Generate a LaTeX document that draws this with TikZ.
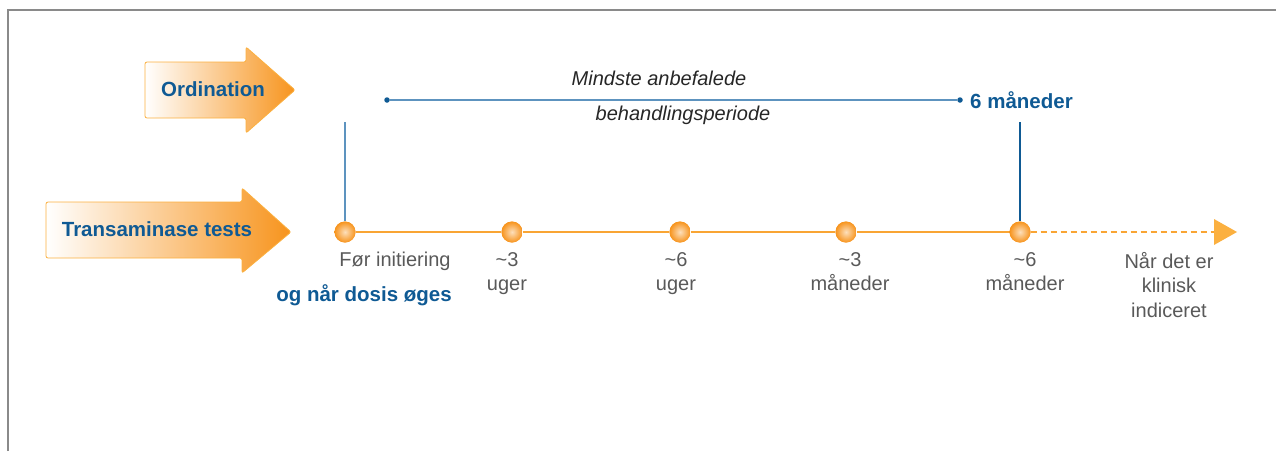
\documentclass[tikz,border=0pt]{standalone}
\usepackage{fontspec}
\setmainfont{Liberation Sans}
\usetikzlibrary{arrows.meta}
\definecolor{frameg}{HTML}{8A8A8A}
\definecolor{orng}{HTML}{F7941D}
\definecolor{orngl}{HTML}{FBB040}
\definecolor{lineo}{HTML}{F9A534}
\definecolor{dblue}{HTML}{0F5A94}
\definecolor{lblue}{HTML}{5D93BF}
\definecolor{txtg}{HTML}{595959}
\definecolor{itxt}{HTML}{262626}
\tikzset{
  bigarrow/.style={left color=white, right color=orng, draw=orngl, line width=0.8pt, rounded corners=2pt},
  arrowtext/.style={font=\fontsize{20.5}{24}\selectfont\bfseries, text=dblue, inner sep=0pt},
  ball/.style={circle, minimum size=21pt, inner sep=0pt, inner color=orng!30!white, outer color=orng, draw=none},
  tick/.style={font=\fontsize{20}{24.5}\selectfont, text=txtg, align=center, anchor=north, inner sep=0pt},
  itext/.style={font=\fontsize{20}{24}\selectfont\itshape, text=itxt, inner sep=0pt},
  bdot/.style={circle, fill=dblue, minimum size=5.5pt, inner sep=0pt},
  tline/.style={draw=lineo, line width=2.8pt},
}
\begin{document}
\begin{tikzpicture}[x=1pt,y=-1pt]
\useasboundingbox (0,0) rectangle (1276,451);
% frame
\draw[frameg, line width=2pt] (8,451) -- (8,10) -- (1276,10);
% big arrows
\path[bigarrow] (145,62) -- (246,62) -- (246,47) -- (295,90) -- (246,133) -- (246,118) -- (145,118) -- cycle;
\path[bigarrow] (46,202) -- (242,202) -- (242,188) -- (291,232) -- (242,273) -- (242,258) -- (46,258) -- cycle;
\node[arrowtext] (ord) at (213,89) {Ordination};
\node[arrowtext] (trans) at (157,229) {Transaminase tests};
% blue period line
\node[bdot] (p0) at (387,100) {};
\node[bdot] (p1) at (960,100) {};
\draw[lblue, line width=1.6pt] (p0) -- (p1);
\node[itext] (t1) at (659,78) {Mindste anbefalede};
\node[itext] (t2) at (683,115) {behandlingsperiode};
\node[font=\fontsize{20.5}{24}\selectfont\bfseries, text=dblue, anchor=west, inner sep=0pt] (six) at (970,100) {6 måneder};
% timeline dots
\node[ball] (d0) at (345,232) {};
\node[ball] (d1) at (512,232) {};
\node[ball] (d2) at (680,232) {};
\node[ball] (d3) at (846,232) {};
\node[ball] (d4) at (1020,232) {};
\coordinate (dend) at (1214,232);
\coordinate (v0) at (345,122);
\coordinate (v4) at (1020,122);
\draw[lblue, line width=1.4pt] (v0) -- (d0.north);
\draw[dblue, line width=1.4pt] (v4) -- (d4.north);
\draw[tline] (d0) -- (d1) (d1) -- (d2) (d2) -- (d3) (d3) -- (d4);
\draw[lineo, line width=2.8pt, dash pattern=on 6pt off 4pt] (d4.east) -- (dend);
\fill[orngl] (dend) ++(0,-13) -- ++(23,13) -- ++(-23,13) -- cycle;
% redraw balls on top
\node[ball] at (d0) {};
\node[ball] at (d1) {};
\node[ball] at (d2) {};
\node[ball] at (d3) {};
\node[ball] at (d4) {};
% labels
\node[tick] (l0) at (395,252) {Før initiering};
\node[font=\fontsize{20.5}{24}\selectfont\bfseries, text=dblue, inner sep=0pt] (l0b) at (364,295) {og når dosis øges};
\node[tick] (l1) at (507,252) {\textasciitilde3\\uger};
\node[tick] (l2) at (676,252) {\textasciitilde6\\uger};
\node[tick] (l3) at (850,252) {\textasciitilde3\\måneder};
\node[tick] (l4) at (1025,252) {\textasciitilde6\\måneder};
\node[tick] (l5) at (1169,252) {Når det er\\klinisk\\indiceret};
\end{tikzpicture}
\end{document}
